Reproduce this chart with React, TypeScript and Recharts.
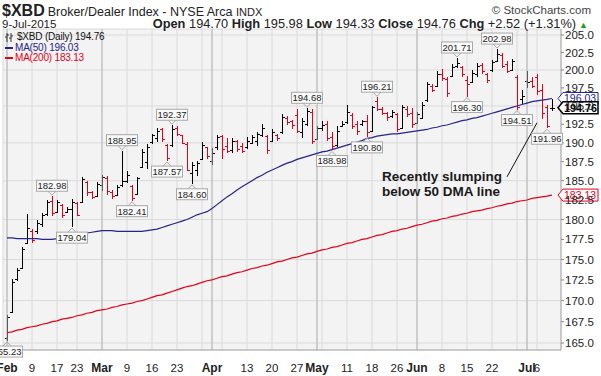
import React from 'react';
import { ComposedChart, Bar, Line, XAxis, YAxis, CartesianGrid, ReferenceLine, ReferenceDot } from 'recharts';

const dates = [
  '2/2','2/3','2/4','2/5','2/6','2/9','2/10','2/11','2/12','2/13','2/17','2/18','2/19','2/20','2/23','2/24','2/25','2/26','2/27',
  '3/2','3/3','3/4','3/5','3/6','3/9','3/10','3/11','3/12','3/13','3/16','3/17','3/18','3/19','3/20','3/23','3/24','3/25','3/26','3/27','3/30','3/31',
  '4/1','4/2','4/6','4/7','4/8','4/9','4/10','4/13','4/14','4/15','4/16','4/17','4/20','4/21','4/22','4/23','4/24','4/27','4/28','4/29','4/30',
  '5/1','5/4','5/5','5/6','5/7','5/8','5/11','5/12','5/13','5/14','5/15','5/18','5/19','5/20','5/21','5/22','5/26','5/27','5/28','5/29',
  '6/1','6/2','6/3','6/4','6/5','6/8','6/9','6/10','6/11','6/12','6/15','6/16','6/17','6/18','6/19','6/22','6/23','6/24','6/25','6/26','6/29','6/30',
  '7/1','7/2','7/6','7/7','7/8','7/9',
];

const opens = [
  165.6,168.7,172.6,173.9,177.0,178.6,178.5,179.4,180.7,182.4,181.0,181.9,181.0,181.3,182.1,182.3,184.8,183.5,183.0,
  184.5,185.4,183.5,183.1,184.5,185.0,184.3,183.3,186.8,187.5,190.1,190.6,191.8,189.7,189.7,192.0,191.0,189.8,186.0,186.4,187.9,189.4,
  187.6,189.4,190.9,189.6,189.0,190.2,189.6,189.4,190.0,190.3,191.0,190.9,190.2,191.0,191.4,193.4,192.9,193.8,191.5,192.5,194.2,
  190.5,192.0,192.6,190.8,189.7,192.3,192.8,193.8,192.6,192.5,193.0,191.6,195.7,194.6,194.0,193.6,193.9,192.0,194.6,194.0,
  192.7,193.4,195.8,197.8,197.7,199.4,198.8,199.1,200.6,200.4,198.6,198.3,199.4,200.7,199.5,200.0,201.3,202.2,200.9,200.0,199.0,196.0,
  198.5,198.4,199.0,197.2,194.9,194.70,
];
const highs = [
  168.3,172.6,173.9,176.6,180.7,178.8,180.0,180.8,182.5,182.98,182.5,182.0,181.6,182.6,182.2,185.5,184.9,183.6,184.8,
  185.8,185.6,183.8,184.5,188.95,186.2,184.5,185.5,189.2,189.8,191.2,192.0,192.0,189.9,192.37,192.2,191.1,190.1,187.4,187.6,190.1,189.5,
  189.3,191.1,191.1,190.7,190.6,190.4,190.0,190.8,191.1,191.5,192.5,191.0,191.8,191.2,193.9,193.6,193.1,194.6,193.4,194.68,194.6,
  192.3,192.9,192.9,191.5,192.2,193.0,195.1,194.0,192.9,193.1,193.8,195.0,196.21,194.8,194.2,194.5,194.0,195.2,195.0,194.7,
  194.2,195.6,198.3,198.0,199.8,200.1,199.0,200.8,201.71,200.6,199.2,200.0,201.0,201.0,199.6,201.4,202.98,202.4,201.3,201.6,199.3,197.2,
  199.8,199.0,199.5,198.0,195.1,195.98,
];
const lows = [
  165.23,168.5,172.4,173.8,176.9,177.0,178.2,179.1,180.5,180.4,180.9,180.2,180.9,179.04,180.4,182.1,183.0,182.6,182.9,
  183.7,183.2,182.6,183.0,184.2,184.7,182.41,183.1,186.6,186.5,189.9,190.1,190.1,187.57,189.5,190.9,189.8,186.2,184.60,185.6,187.7,187.9,
  187.1,189.1,187.8,188.6,188.7,188.8,188.6,189.2,189.8,189.6,190.8,188.5,190.1,190.2,191.2,192.4,191.9,191.3,190.6,192.2,189.8,
  190.4,191.6,190.2,188.98,189.4,192.1,192.6,191.8,191.1,192.3,190.80,191.5,194.3,193.7,193.0,193.4,191.5,191.9,193.5,192.0,
  192.6,193.2,195.5,196.9,197.6,198.4,196.3,199.0,200.3,199.0,196.30,198.2,199.0,199.4,198.2,199.7,201.2,200.3,199.6,199.8,194.51,195.3,
  197.5,197.5,196.5,193.2,191.96,194.33,
];
const closes = [
  168.1,172.3,173.7,176.3,178.9,177.4,179.6,180.6,182.2,180.8,182.2,180.6,181.3,182.3,180.6,185.2,183.5,182.9,184.6,
  185.5,183.6,183.0,184.2,185.0,185.8,182.8,185.3,188.8,189.5,191.0,191.6,190.5,188.0,191.9,191.2,190.0,186.4,187.0,187.3,189.7,188.3,
  188.7,190.8,189.2,188.9,190.2,189.2,188.9,190.3,190.8,191.2,192.0,189.1,191.4,190.6,193.5,192.8,192.4,191.6,193.0,194.3,190.3,
  192.0,192.4,190.6,189.6,191.6,192.6,194.2,192.3,191.6,192.9,191.5,194.8,194.6,194.0,193.5,194.2,191.8,194.9,193.9,192.5,
  193.9,195.2,198.0,197.2,199.5,198.9,196.8,200.5,201.0,199.4,198.0,199.6,200.6,199.8,198.6,201.2,202.3,200.6,199.9,201.3,194.9,196.4,
  198.3,197.8,197.0,194.0,192.24,194.76,
];
const ma50 = [
  177.7,177.7,177.6,177.6,177.6,177.6,177.6,177.5,177.5,177.5,177.6,177.6,177.7,177.8,178.0,
  178.2,178.3,178.4,178.5,178.6,178.6,178.6,178.5,178.5,178.5,178.5,178.5,178.5,178.6,178.7,
  178.8,179.0,179.2,179.4,179.6,179.8,180.0,180.3,180.6,180.8,181.0,181.4,181.9,182.4,182.9,
  183.3,183.8,184.2,184.6,185.0,185.4,185.7,186.1,186.4,186.7,187.0,187.3,187.5,187.8,188.0,
  188.2,188.4,188.6,188.8,188.9,189.1,189.3,189.5,189.7,189.9,190.1,190.3,190.6,190.7,190.9,
  191.0,191.1,191.2,191.2,191.3,191.4,191.5,191.6,191.7,191.8,192.0,192.1,192.3,192.4,192.6,
  192.8,193.0,193.1,193.3,193.4,193.6,193.8,194.0,194.2,194.4,194.6,194.8,195.0,195.2,195.4,
  195.6,195.7,195.8,195.9,196.03,
];
const ma200 = [
  166.2,166.3,166.5,166.6,166.8,166.9,167.0,167.2,167.3,167.5,
  167.6,167.8,167.9,168.0,168.2,168.3,168.5,168.6,168.8,168.9,
  169.0,169.2,169.3,169.5,169.6,169.7,169.9,170.0,170.2,170.4,
  170.6,170.7,170.9,171.1,171.3,171.5,171.7,171.8,172.0,172.2,
  172.4,172.5,172.7,172.9,173.0,173.2,173.4,173.5,173.7,173.9,
  174.0,174.2,174.3,174.5,174.7,174.8,175.0,175.2,175.3,175.5,
  175.7,175.8,176.0,176.2,176.3,176.5,176.6,176.8,177.0,177.1,
  177.3,177.5,177.6,177.8,178.0,178.1,178.3,178.5,178.6,178.8,
  178.9,179.1,179.3,179.4,179.6,179.8,179.9,180.1,180.2,180.4,
  180.5,180.7,180.8,181.0,181.1,181.2,181.4,181.5,181.7,181.8,
  182.0,182.1,182.3,182.4,182.5,182.7,182.8,182.9,183.0,183.13,
];

const tickDates = ['2/2','2/9','2/17','2/23','3/2','3/9','3/16','3/23','3/30','4/1','4/6','4/13','4/20','4/27','5/1','5/4','5/11','5/18','5/26','6/1','6/8','6/15','6/22','6/29','7/1','7/6'];
const tickLabels = ['Feb','9','17','23','Mar','9','16','23','','Apr','','13','20','27','May','','11','18','26','Jun','8','15','22','','Jul','6'];
const monthDates = ['2/2','3/2','4/1','5/1','6/1','7/1'];
const yTicks = [165, 167.5, 170, 172.5, 175, 177.5, 180, 182.5, 185, 187.5, 190, 192.5, 195, 197.5, 200, 202.5, 205];

const highCallDates = ['2/13','3/6','3/20','4/29','5/19','6/11','6/23'];
const highCallValues = [182.98, 188.95, 192.37, 194.68, 196.21, 201.71, 202.98];
const lowCallDates = ['2/2','2/20','3/10','3/19','3/26','5/6','5/15','6/15','6/29','7/8'];
const lowCallValues = [165.23, 179.04, 182.41, 187.57, 184.60, 188.98, 190.80, 196.30, 194.51, 191.96];

const lastDate = '7/9';
const lastClose = 194.76;
const lastMa50 = 196.03;
const lastMa200 = 183.13;

const noteDate = '5/20';
const noteValue = 185.0;
const noteLines = ['Recently slumping', 'below 50 DMA line'];
const arrowFrom = { x: '6/25', y: 185.5 };
const arrowTo = { x: '7/6', y: 192.7 };

const data = dates.map((d, i) => ({
  d,
  range: [lows[i], highs[i]],
  o: opens[i], h: highs[i], l: lows[i], c: closes[i],
  up: i === 0 || closes[i] >= closes[i - 1],
  ma50: ma50[i],
  ma200: ma200[i],
}));

const FONT = "'Liberation Sans', Arial, sans-serif";
const RED = '#e3001b';
const NAVY = '#24248c';

const OhlcShape = (props: any) => {
  const { x, y, width, height, payload } = props;
  if (!payload) return null;
  const top = Math.min(y, y + height);
  const bot = Math.max(y, y + height);
  const lh = Math.log(payload.h), ll = Math.log(payload.l);
  const yOf = (v: number) => top + (bot - top) * (lh - Math.log(v)) / (lh - ll);
  const cx = Math.round(x + width / 2) + 0.5;
  const color = payload.up ? '#000' : RED;
  const yo = Math.round(yOf(payload.o)) + 0.5;
  const yc = Math.round(yOf(payload.c)) + 0.5;
  return (
    <g stroke={color} strokeWidth={1} shapeRendering="crispEdges">
      <line x1={cx} x2={cx} y1={top} y2={bot} />
      <line x1={cx - 2.5} x2={cx} y1={yo} y2={yo} />
      <line x1={cx} x2={cx + 2.5} y1={yc} y2={yc} />
    </g>
  );
};

const XTick = (props: any) => {
  const { x, y, payload } = props;
  const idx = tickDates.indexOf(payload.value);
  const label = idx >= 0 ? tickLabels[idx] : '';
  const bold = monthDates.includes(payload.value);
  return (
    <text x={x} y={y + 14} textAnchor="middle" fontFamily={FONT} fontSize={bold ? 12 : 11.5}
      fontWeight={bold ? 'bold' : 'normal'} fill="#222">{label}</text>
  );
};

const makeCallout = (value: number, above: boolean) => (props: any) => {
  const { cx, cy } = props;
  const w = 31, h = 11;
  const txt = value.toFixed(2);
  if (above) {
    const by = cy - 5 - h;
    return (
      <g>
        <rect x={cx - w / 2} y={by} width={w} height={h} fill="#fafafa" stroke="#a8a8a8" strokeWidth={1} />
        <polyline points={`${cx - 4},${cy - 5} ${cx},${cy - 1} ${cx + 4},${cy - 5}`} fill="none" stroke="#a8a8a8" />
        <text x={cx} y={by + 9} textAnchor="middle" fontFamily={FONT} fontSize={9.5} fill="#222">{txt}</text>
      </g>
    );
  }
  const by = cy + 5;
  return (
    <g>
      <rect x={cx - w / 2} y={by} width={w} height={h} fill="#fafafa" stroke="#a8a8a8" strokeWidth={1} />
      <polyline points={`${cx - 4},${cy + 5} ${cx},${cy + 1} ${cx + 4},${cy + 5}`} fill="none" stroke="#a8a8a8" />
      <text x={cx} y={by + 9} textAnchor="middle" fontFamily={FONT} fontSize={9.5} fill="#222">{txt}</text>
    </g>
  );
};

const makeTag = (value: number, color: string, bold: boolean) => (props: any) => {
  const { cx, cy } = props;
  const x0 = cx + 6;
  const pts = `${x0},${cy} ${x0 + 5},${cy - 6} ${x0 + 40},${cy - 6} ${x0 + 40},${cy + 6} ${x0 + 5},${cy + 6}`;
  return (
    <g>
      <polygon points={pts} fill="#fff" stroke={color} strokeWidth={bold ? 1.5 : 1} />
      <text x={x0 + 6} y={cy + 4} fontFamily={FONT} fontSize={bold ? 10.8 : 10.5} fontWeight={bold ? 'bold' : 'normal'} fill={color}>{value.toFixed(2)}</text>
    </g>
  );
};

const NoteShape = (props: any) => {
  const { cx, cy } = props;
  return (
    <g>
      {noteLines.map((t, i) => (
        <text key={i} x={cx} y={cy + i * 15} fontFamily={FONT} fontSize={13.5} fontWeight="bold" fill="#1a1a1a">{t}</text>
      ))}
    </g>
  );
};

export default function App() {
  return (
    <div style={{ position: 'absolute', left: 0, top: 0, width: 601, height: 376, background: '#fff', fontFamily: FONT, overflow: 'hidden' }}>
      <ComposedChart width={601} height={376} data={data} margin={{ top: 29, right: 0, left: 3, bottom: 0 }}>
        <CartesianGrid stroke="#dadada" fill="#f3f3f3" />
        {monthDates.map((m) => (
          <ReferenceLine key={m} x={m} stroke="#b4b4b4" strokeWidth={1} />
        ))}
        <XAxis dataKey="d" ticks={tickDates} interval={0} tick={<XTick />} tickLine={false}
          axisLine={{ stroke: '#a8a8a8' }} height={26} padding={{ left: 1.5, right: 6.5 }} />
        <YAxis orientation="right" scale="log" type="number" domain={[164.19, 205.87]} allowDataOverflow
          ticks={yTicks} tickFormatter={(v: number) => v.toFixed(1)} width={40} tickSize={3} tickMargin={1}
          tick={{ fontFamily: FONT, fontSize: 11.5, fill: '#222' }} axisLine={{ stroke: '#a8a8a8' }} tickLine={{ stroke: '#888' }} />
        <Line dataKey="ma200" stroke={RED} strokeWidth={1.2} dot={false} isAnimationActive={false} />
        <Line dataKey="ma50" stroke={NAVY} strokeWidth={1.2} dot={false} isAnimationActive={false} />
        <Bar dataKey="range" shape={<OhlcShape />} isAnimationActive={false} />
        {highCallDates.map((d, i) => (
          <ReferenceDot key={'h' + d} x={d} y={highCallValues[i]} r={0} shape={makeCallout(highCallValues[i], true)} />
        ))}
        {lowCallDates.map((d, i) => (
          <ReferenceDot key={'l' + d} x={d} y={lowCallValues[i]} r={0} shape={makeCallout(lowCallValues[i], false)} />
        ))}
        <ReferenceLine segment={[arrowFrom, arrowTo]} stroke="#111" strokeWidth={1} />
        <ReferenceDot x={noteDate} y={noteValue} r={0} shape={<NoteShape />} />
        <ReferenceDot x={lastDate} y={lastMa200} r={0} shape={makeTag(lastMa200, RED, false)} />
        <ReferenceDot x={lastDate} y={lastMa50} r={0} shape={makeTag(lastMa50, NAVY, false)} />
        <ReferenceDot x={lastDate} y={lastClose} r={0} shape={makeTag(lastClose, '#000', true)} />
      </ComposedChart>

      <div style={{ position: 'absolute', left: 2, top: 2, whiteSpace: 'nowrap', color: '#222' }}>
        <span style={{ fontWeight: 'bold', fontSize: 16 }}>$XBD</span>
        <span style={{ fontSize: 12.5, marginLeft: 3 }}>Broker/Dealer Index - NYSE Arca </span>
        <span style={{ fontSize: 11 }}>INDX</span>
      </div>
      <div style={{ position: 'absolute', right: 10, top: 4, fontSize: 11.5, color: '#444', whiteSpace: 'nowrap' }}>© StockCharts.com</div>
      <div style={{ position: 'absolute', left: 2, top: 18, fontSize: 11.5, color: '#222' }}>9-Jul-2015</div>
      <div style={{ position: 'absolute', right: 13, top: 16, fontSize: 12.8, color: '#222', whiteSpace: 'nowrap' }}>
        <b>Open</b> 194.70 <b>High</b> 195.98 <b>Low</b> 194.33 <b>Close</b> 194.76 <b>Chg</b> +2.52 (+1.31%)
        <span style={{ color: '#1a9a1a', fontSize: 9, marginLeft: 3 }}>▲</span>
      </div>

      <div style={{ position: 'absolute', left: 5, top: 32, fontSize: 10, lineHeight: '10.5px', whiteSpace: 'nowrap', letterSpacing: -0.2 }}>
        <div style={{ color: '#111' }}>
          <svg width={9} height={9} style={{ marginRight: 3, verticalAlign: 'middle' }}>
            <path d="M2 0 V9 M0 4 H2 M2 2 H4 M6 0 V9 M4 5 H6 M6 3 H8" stroke="#333" strokeWidth={1} fill="none" />
          </svg>
          $XBD (Daily) 194.76
        </div>
        <div style={{ color: NAVY }}><span style={{ display: 'inline-block', width: 8, height: 2, background: NAVY, verticalAlign: 'middle', marginRight: 2 }} />MA(50) 196.03</div>
        <div style={{ color: RED }}><span style={{ display: 'inline-block', width: 8, height: 2, background: RED, verticalAlign: 'middle', marginRight: 2 }} />MA(200) 183.13</div>
      </div>
    </div>
  );
}
